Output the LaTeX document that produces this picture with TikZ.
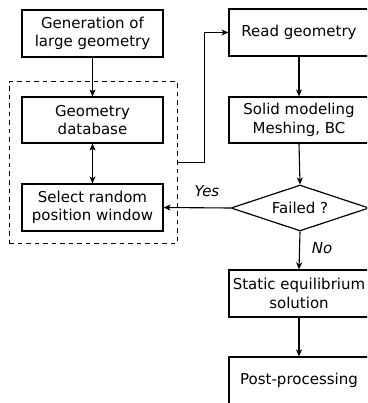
\documentclass[tikz,border=0pt]{standalone}
\usepackage{fontspec}
\setmainfont{DejaVu Sans}
\usetikzlibrary{shapes.geometric,arrows.meta}
\begin{document}
\begin{tikzpicture}[x=1pt,y=-1pt,
  txt/.style={font=\fontsize{15}{18.5}\selectfont},
  box/.style={txt,draw,line width=1.2pt,minimum width=141pt,minimum height=47pt,
    inner sep=0pt,align=center},
  decision/.style={txt,draw,diamond,aspect=3,line width=1.2pt,inner sep=0pt,
    minimum width=138pt,minimum height=46pt},
  group/.style={draw,dash pattern=on 4.5pt off 4pt,line width=1pt,
    minimum width=168pt,minimum height=161pt,inner sep=0pt},
  tip/.tip={Stealth[length=7pt,width=6pt,inset=2pt]},
  flow/.style={line width=1.1pt,-tip},
  both/.style={line width=1.1pt,tip-tip},
  tag/.style={font=\fontsize{15}{18.5}\selectfont\itshape,inner sep=0pt}]
\useasboundingbox (0,0) rectangle (367,403);
\clip (0,0) rectangle (367,403);

% left column: geometry preparation
\node[box] (gen) at (92.5,33.5) {Generation of\\large geometry};
\node[group] (grp) at (93,162.5) {};
\node[box,minimum height=46pt] (db) at (92.5,120) {Geometry\\database};
\node[box] (sel) at (92.5,207.5) {Select random\\position window};

% right column: simulation chain
\node[box,minimum width=140pt] (read) at (299,32.5) {Read geometry};
\node[box,minimum width=140pt,minimum height=46pt] (solid) at (299,120) {Solid modeling\\Meshing, BC};
\node[decision] (fail) at (300,208) {Failed ?};
\node[box,minimum width=140pt] (static) at (299,293.5) {Static equilibrium\\solution};
\node[box,minimum width=140pt] (post) at (299,380.5) {Post-processing};

% connectors
\draw[flow] (gen.south) -- (db.north);
\draw[both] (db.south) -- (sel.north);
\draw[flow] (grp.east) -- ++(27,0) |- (read.west);
\draw[flow] (read.south) -- (solid.north);
\draw[flow] (solid.south) -- (fail.north);
\draw[flow] (fail.west) -- (sel.east);
\draw[flow] (fail.south) -- (static.north);
\draw[flow] (static.south) -- (post.north);

% branch labels
\node[tag] (yes) at (207,191) {Yes};
\node[tag] (no) at (322,248) {No};
\end{tikzpicture}
\end{document}
